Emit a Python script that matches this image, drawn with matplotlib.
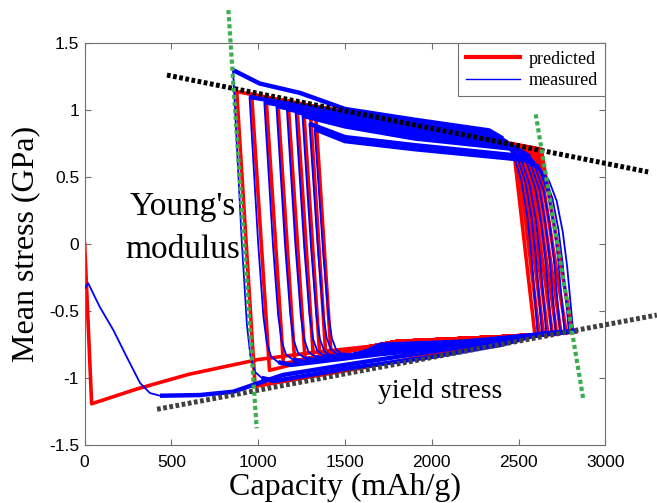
import numpy as np
import matplotlib
matplotlib.use("Agg")
from matplotlib import pyplot as plt
from matplotlib.lines import Line2D

# ---- predicted (red): first lithiation, then 9 cycles of corners ----
red_first_x = [0, 40, 300, 600, 1000, 1300, 1800, 2400, 2595]
red_first_y = [0.0, -1.19, -1.08, -0.97, -0.86, -0.81, -0.74, -0.70, -0.68]

red_rb_x = [2595, 2620, 2645, 2670, 2695, 2720, 2745, 2775, 2810]   # right turning points
red_rb_y = [-0.68, -0.68, -0.675, -0.675, -0.67, -0.67, -0.665, -0.66, -0.655]
red_rt_x = [2470, 2490, 2510, 2530, 2550, 2570, 2590, 2610, 2630]   # top of right drops
red_rt_y = [0.73, 0.73, 0.725, 0.72, 0.72, 0.715, 0.715, 0.71, 0.71]
red_lt_x = [876, 962, 1045, 1112, 1172, 1222, 1260, 1298, 1328]     # left turning points
red_lt_y = [1.14, 1.12, 1.10, 1.08, 1.065, 1.055, 1.045, 1.035, 1.03]
red_lb_x = [982, 1065, 1145, 1210, 1270, 1318, 1355, 1390, 1420]    # bottom of left drops
red_lb_y = [-1.06, -0.94, -0.89, -0.87, -0.86, -0.85, -0.84, -0.84, -0.83]
red_bot0_x = [1587, 2100]
red_bot0_y = [-0.925, -0.80]
red_bot_x = [1500, 1800, 2400]
red_bot_y = [-0.80, -0.725, -0.69]
red_end = (2830, -0.655)

# ---- measured (blue) ----
blue_first_x = [0, 20, 88, 165, 242, 319, 376, 434, 664, 857, 991, 1143, 1500, 2000, 2400]
blue_first_y = [-0.33, -0.29, -0.47, -0.64, -0.84, -1.035, -1.11, -1.13, -1.125, -1.10,
                -1.04, -0.975, -0.90, -0.80, -0.72]

blue_r_x = [2610, 2635, 2660, 2690, 2715, 2740, 2765, 2790, 2815]
blue_r_y = [-0.67, -0.665, -0.665, -0.66, -0.66, -0.655, -0.655, -0.65, -0.65]
blue_sh_y = [0.85, 0.82, 0.79, 0.77, 0.75, 0.73, 0.71, 0.66, 0.63]
# shape of the rounded rise at the right (offset from turning point, share of rise)
rise_dx = [0, -35, -60, -95, -140, -200, -280]
rise_f = [0, 0.38, 0.58, 0.76, 0.88, 0.96, 1.0]
blue_top_x = [1900, 1500]
blue_top_y = [[0.93, 1.01], [0.90, 0.98], [0.87, 0.96], [0.85, 0.94], [0.83, 0.92],
              [0.81, 0.90], [0.79, 0.88], [0.74, 0.80], [0.71, 0.77]]
blue_top0_x = [1240, 1008]
blue_top0_y = [1.13, 1.20]
blue_l_x = [855, 950, 1035, 1105, 1165, 1215, 1255, 1295, 1325]
blue_l_y = [1.30, 1.10, 1.06, 1.03, 1.01, 0.99, 0.96, 0.90, 0.86]
blue_b_y = [-1.02, -0.90, -0.88, -0.87, -0.86, -0.85, -0.85, -0.84, -0.84]
drop_dx = [0, 50, 80, 100, 125, 165, 240]
drop_f = [0, 0.55, 0.82, 0.92, 0.97, 0.99, 1.0]
blue_bot0_x = [1500, 2000, 2400]
blue_bot0_y = [-0.93, -0.84, -0.75]
blue_bot_x = [1700, 2200]
blue_bot_y = [[-0.82, -0.76], [-0.81, -0.755], [-0.80, -0.75], [-0.79, -0.745],
              [-0.78, -0.74], [-0.77, -0.735], [-0.76, -0.73], [-0.75, -0.725]]
blue_end = (2835, -0.645)

# ---- guide lines ----
black_x, black_y = [474, 3247], [1.263, 0.54]
gray_x, gray_y = [417, 3297], [-1.231, -0.528]
green1_x, green1_y = [828, 991], [1.748, -1.373]
green2_x, green2_y = [2599, 2874], [0.97, -1.162]

# build red path
rx, ry = list(red_first_x), list(red_first_y)
for k in range(9):
    rx += [red_rt_x[k], red_lt_x[k], red_lb_x[k]]
    ry += [red_rt_y[k], red_lt_y[k], red_lb_y[k]]
    if k == 0:
        rx += red_bot0_x
        ry += red_bot0_y
    else:
        rx += red_bot_x
        ry += red_bot_y
    if k < 8:
        rx.append(red_rb_x[k + 1]); ry.append(red_rb_y[k + 1])
    else:
        rx.append(red_end[0]); ry.append(red_end[1])

# build blue path, keeping the plateau pieces (noisy bands) apart
bx, by = list(blue_first_x), list(blue_first_y)
bands = [(blue_first_x[7:], blue_first_y[7:])]
for k in range(9):
    for dx, f in zip(rise_dx, rise_f):
        bx.append(blue_r_x[k] + dx)
        by.append(blue_r_y[k] + f * (blue_sh_y[k] - blue_r_y[k]))
    tx, ty = [bx[-2], bx[-1]], [by[-2], by[-1]]
    tx += blue_top_x
    ty += blue_top_y[k]
    if k == 0:
        tx += blue_top0_x
        ty += blue_top0_y
    tx.append(blue_l_x[k]); ty.append(blue_l_y[k])
    bands.append((tx, ty))
    bx += tx[2:-1]
    by += ty[2:-1]
    for dx, f in zip(drop_dx, drop_f):
        bx.append(blue_l_x[k] + dx)
        by.append(blue_l_y[k] + f * (blue_b_y[k] - blue_l_y[k]))
    sx, sy = [bx[-2], bx[-1]], [by[-2], by[-1]]
    if k == 0:
        sx += blue_bot0_x
        sy += blue_bot0_y
    else:
        sx += blue_bot_x
        sy += blue_bot_y[k - 1]
    if k < 8:
        sx.append(blue_r_x[k + 1]); sy.append(blue_r_y[k + 1])
    else:
        sx.append(blue_end[0]); sy.append(blue_end[1])
    bands.append((sx, sy))
    bx += sx[2:-1]
    by += sy[2:-1]
    if k == 8:
        bx.append(sx[-1]); by.append(sy[-1])

fig = plt.figure(figsize=(6.57, 5.03), dpi=100)
ax = fig.add_axes([0.1289, 0.1147, 0.7924, 0.7992])

ax.plot(rx, ry, color="#ff0000", lw=2.6, zorder=2)
ax.plot(bx, by, color="#0000ff", lw=1.3, zorder=3)
for sx, sy in bands:
    ax.plot(sx, sy, color="#0000ff", lw=3.2, zorder=3, solid_capstyle="butt")

dots = dict(solid_capstyle="butt", dash_capstyle="butt", clip_on=False, zorder=5)
ax.plot(black_x, black_y, color="black", lw=3.6, linestyle=(0, (0.75, 0.5)), **dots)
ax.plot(gray_x, gray_y, color="#404040", lw=3.6, linestyle=(0, (0.75, 0.5)), **dots)
ax.plot(green1_x, green1_y, color="#3cae50", lw=3.0, linestyle=(0, (1.0, 0.7)), **dots)
ax.plot(green2_x, green2_y, color="#3cae50", lw=3.0, linestyle=(0, (1.0, 0.7)), **dots)

ax.set_xlim(0, 3000)
ax.set_ylim(-1.5, 1.5)
ax.set_xticks([0, 500, 1000, 1500, 2000, 2500, 3000])
ax.set_xticklabels(["0", "500", "1000", "1500", "2000", "2500", "3000"])
ax.set_yticks([-1.5, -1, -0.5, 0, 0.5, 1, 1.5])
ax.set_yticklabels(["-1.5", "-1", "-0.5", "0", "0.5", "1", "1.5"])
ax.tick_params(direction="in", top=True, right=True, length=4, width=0.8,
               color="#707070", labelsize=12.5)
ax.tick_params(axis="x", pad=7)
ax.tick_params(axis="y", pad=4)
for lab in ax.get_xticklabels() + ax.get_yticklabels():
    lab.set_family("Liberation Sans")
for sp in ax.spines.values():
    sp.set_color("#707070")
    sp.set_linewidth(0.8)

serif = "Liberation Serif"
ax.set_xlabel("Capacity (mAh/g)", family=serif, fontsize=23, labelpad=2)
ax.set_ylabel("Mean stress (GPa)", family=serif, fontsize=23, labelpad=6)

ax.text(567, 0.12, "Young's\nmodulus", family=serif, fontsize=24, ha="center",
        va="center", linespacing=1.5, zorder=6)
ax.text(2048, -1.10, "yield stress", family=serif, fontsize=20, ha="center",
        va="center", zorder=6)

handles = [Line2D([], [], color="#ff0000", lw=3.0),
           Line2D([], [], color="#0000ff", lw=1.0)]
leg = ax.legend(handles, ["predicted", "measured"], loc="upper right",
                bbox_to_anchor=(1, 1), borderaxespad=0, fancybox=False,
                edgecolor="#707070", framealpha=1, handlelength=3.0,
                handletextpad=0.5, borderpad=0.4, labelspacing=0.25,
                prop={"family": serif, "size": 13})
leg.get_frame().set_linewidth(0.8)
leg.set_zorder(7)

fig.savefig("out.png", dpi=100)
